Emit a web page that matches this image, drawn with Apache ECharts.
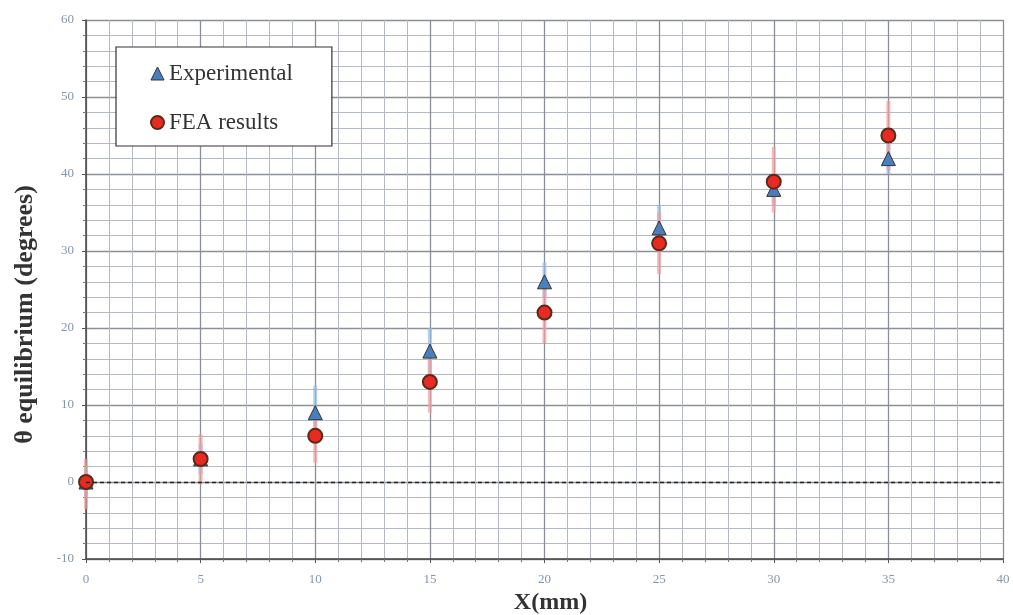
<!DOCTYPE html>
<html><head><meta charset="utf-8">
<script src="https://cdn.jsdelivr.net/npm/echarts@6/dist/echarts.min.js"></script>
<style>html,body{margin:0;padding:0;background:#fff}#c{width:1013px;height:615px}</style>
</head><body><div id="c"></div>
<script>
var xValues = [0, 5, 10, 15, 20, 25, 30, 35];
var expValues = [0, 3, 9, 17, 26, 33, 38, 42];
var expLow = [-2, 1, 6.5, 14, 24, 31, 36, 40];
var expHigh = [2, 5, 12.5, 20, 28.5, 36, 40, 44];
var feaValues = [0, 3, 6, 13, 22, 31, 39, 45];
var feaLow = [-3.5, -0.3, 2.5, 9, 18, 27, 35, 40.5];
var feaHigh = [3, 6.2, 9.5, 17, 26, 35, 43.5, 49.5];
var xTicks = [0, 5, 10, 15, 20, 25, 30, 35, 40];
var yTicks = [-10, 0, 10, 20, 30, 40, 50, 60];

var serif = '"Liberation Serif","DejaVu Serif",serif';
function pairs(a, b) { return a.map(function (v, i) { return [v, b[i]]; }); }
function bars(lo, hi) { return xValues.map(function (x, i) { return [x, lo[i], hi[i]]; }); }
function errRender(color) {
  return function (params, api) {
    var p1 = api.coord([api.value(0), api.value(1)]);
    var p2 = api.coord([api.value(0), api.value(2)]);
    return { type: 'line', shape: { x1: p1[0], y1: p1[1], x2: p2[0], y2: p2[1] },
      style: { stroke: color, lineWidth: 4 } };
  };
}
var chart = echarts.init(document.getElementById('c'));
chart.setOption({
  animation: false,
  backgroundColor: '#fff',
  grid: { left: 86, right: 10, top: 20, bottom: 56, containLabel: false, outerBoundsMode: 'none' },
  legend: {
    orient: 'vertical', left: 116, top: 47,
    padding: [15, 39, 12, 34], itemGap: 26,
    borderColor: '#333', borderWidth: 1.2, backgroundColor: '#fff',
    itemWidth: 13, itemHeight: 13,
    textStyle: { fontFamily: serif, fontSize: 23, color: '#333' },
    data: [
      { name: 'Experimental', icon: 'triangle', itemStyle: { color: '#4a7fbd', borderColor: '#333', borderWidth: 1 } },
      { name: 'FEA results', icon: 'circle', itemStyle: { color: '#e82a22', borderColor: '#5a2a1a', borderWidth: 2 } }
    ]
  },
  xAxis: {
    type: 'value', min: 0, max: 40, interval: 5,
    name: 'X(mm)', nameLocation: 'middle', nameGap: 31,
    nameTextStyle: { fontFamily: serif, fontSize: 24, fontWeight: 'bold', color: '#333', padding: [0, 0, 0, 12] },
    axisLine: { onZero: false, lineStyle: { color: '#444', width: 1.5 } },
    axisTick: { show: true, length: 4, lineStyle: { color: '#555' } },
    minorTick: { show: true, splitNumber: 5, length: 3, lineStyle: { color: '#777' } },
    axisLabel: { fontFamily: serif, fontSize: 13, color: '#8596a8', margin: 14 },
    splitLine: { show: true, lineStyle: { color: '#8a8f98', width: 1.3 } },
    minorSplitLine: { show: true, lineStyle: { color: '#b5bac2', width: 1 } }
  },
  yAxis: {
    type: 'value', min: -10, max: 60, interval: 10,
    name: 'θ equilibrium (degrees)', nameLocation: 'middle', nameGap: 48,
    nameTextStyle: { fontFamily: serif, fontSize: 26, fontWeight: 'bold', color: '#333', padding: [0, 50, 0, 0] },
    axisLine: { show: true, lineStyle: { color: '#444', width: 1.5 } },
    axisTick: { show: true, length: 4, lineStyle: { color: '#555' } },
    minorTick: { show: true, splitNumber: 5, length: 3, lineStyle: { color: '#777' } },
    axisLabel: { fontFamily: serif, fontSize: 13, color: '#8596a8', margin: 12 },
    splitLine: { show: true, lineStyle: { color: '#8a8f98', width: 1.3 } },
    minorSplitLine: { show: true, lineStyle: { color: '#b5bac2', width: 1 } }
  },
  series: [
    { type: 'custom', name: 'expErr', renderItem: errRender('rgba(150,190,230,0.7)'),
      data: bars(expLow, expHigh), encode: { x: 0, y: [1, 2] }, z: 2, silent: true },
    { type: 'custom', name: 'feaErr', renderItem: errRender('rgba(240,160,160,0.7)'),
      data: bars(feaLow, feaHigh), encode: { x: 0, y: [1, 2] }, z: 2, silent: true },
    { type: 'scatter', name: 'Experimental', symbol: 'triangle', symbolSize: 14,
      itemStyle: { color: '#4a7fbd', borderColor: '#333', borderWidth: 1, opacity: 1 },
      data: pairs(xValues, expValues), z: 3,
      markLine: { silent: true, symbol: 'none', label: { show: false },
        lineStyle: { color: '#222', type: [4, 3], width: 1.3 },
        data: [{ yAxis: 0 }] } },
    { type: 'scatter', name: 'FEA results', symbol: 'circle', symbolSize: 14,
      itemStyle: { color: '#e82a22', borderColor: '#5a2a1a', borderWidth: 2, opacity: 1 },
      data: pairs(xValues, feaValues), z: 4 }
  ]
});
</script></body></html>
